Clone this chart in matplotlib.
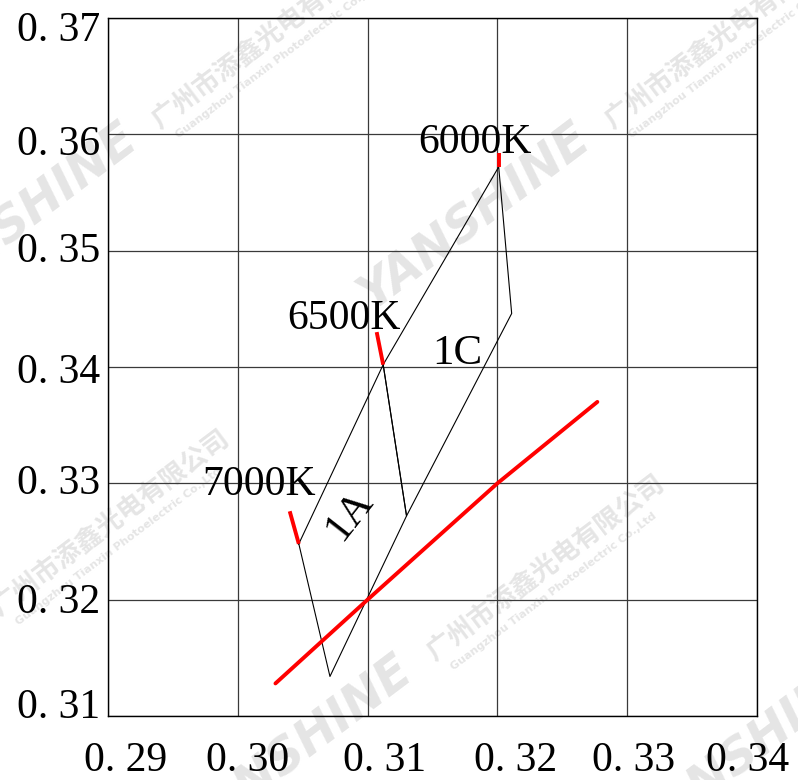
import numpy as np
import matplotlib
matplotlib.use("Agg")
import matplotlib.pyplot as plt
from matplotlib.transforms import IdentityTransform, offset_copy

# ---- chromaticity data (CIE 1931 x, y) ----
# black-body locus segment
locus_x = [0.3029, 0.3100, 0.3200, 0.3277]
locus_y = [0.3128, 0.3200, 0.3300, 0.3370]

# CCT isotherm marks: outer end and the end that meets the bin corners
cct_labels = ["7000K", "6500K", "6000K"]
iso_x_out = [0.3040, 0.3107, 0.3201]
iso_y_out = [0.3276, 0.3430, 0.3584]
iso_x_in = [0.3047, 0.3112, 0.3201]
iso_y_in = [0.3248, 0.3402, 0.3572]

# colour bins
bin_names = ["1A", "1C"]
bin_1a_x = [0.3047, 0.3112, 0.3130, 0.3071]
bin_1a_y = [0.3248, 0.3402, 0.3272, 0.3134]
bin_1c_x = [0.3112, 0.3201, 0.3211, 0.3130]
bin_1c_y = [0.3402, 0.3572, 0.3446, 0.3272]

# axis ticks
x_ticks = [0.29, 0.30, 0.31, 0.32, 0.33, 0.34]
y_ticks = [0.31, 0.32, 0.33, 0.34, 0.35, 0.36, 0.37]
x_tick_labels = ["0. 29", "0. 30", "0. 31", "0. 32", "0. 33", "0. 34"]
y_tick_labels = ["0. 31", "0. 32", "0. 33", "0. 34", "0. 35", "0. 36", "0. 37"]

# ---- layout / style ----
W, H = 798, 780
SERIF = "Liberation Serif"
FS = 30
# pixel nudges for tick labels (x: rightwards, y: downwards)
x_label_dx = [18, 10, 17, 18, 6, -9]
y_label_dy = [-12, -1, -3, 2, -3, 7, 9]

fig = plt.figure(figsize=(W / 100, H / 100), dpi=100)
fig.patch.set_facecolor("white")
ax = fig.add_axes([108 / W, 1 - 716 / H, (757 - 108) / W, (716 - 18) / H])
ax.set_facecolor("none")
ax.set_xlim(x_ticks[0], x_ticks[-1])
ax.set_ylim(y_ticks[0], y_ticks[-1])
ax.set_xticks(x_ticks)
ax.set_yticks(y_ticks)
ax.set_xticklabels([])
ax.set_yticklabels([])
ax.tick_params(length=0)
ax.grid(True, color="#3a3a3a", linewidth=0.9)
ax.set_axisbelow(True)
for s in ax.spines.values():
    s.set_linewidth(1.0)
    s.set_color("black")

# tick labels as text so they can be nudged inside the canvas
for v, lab, dx in zip(x_ticks, x_tick_labels, x_label_dx):
    tr = offset_copy(ax.get_xaxis_transform(), fig=fig, x=dx, y=-55, units="dots")
    ax.text(v, 0, lab, transform=tr, ha="center", va="baseline",
            fontsize=FS, family=SERIF, clip_on=False)
for v, lab, dy in zip(y_ticks, y_tick_labels, y_label_dy):
    tr = offset_copy(ax.get_yaxis_transform(), fig=fig, x=-8, y=-(14 + dy), units="dots")
    ax.text(0, v, lab, transform=tr, ha="right", va="baseline",
            fontsize=FS, family=SERIF, clip_on=False)

# bins
for bx, by in [(bin_1a_x, bin_1a_y), (bin_1c_x, bin_1c_y)]:
    ax.plot(bx + bx[:1], by + by[:1], color="black", linewidth=0.8, zorder=3)

# black-body locus
ax.plot(locus_x, locus_y, color="red", linewidth=2.8, solid_capstyle="round", zorder=4)

# isotherm marks
for xo, yo, xi, yi in zip(iso_x_out, iso_y_out, iso_x_in, iso_y_in):
    ax.plot([xo, xi], [yo, yi], color="red", linewidth=2.8, solid_capstyle="butt", zorder=4)

# CCT labels
cct_lab_x = [0.3016, 0.3082, 0.3183]
cct_lab_y = [0.3290, 0.3433, 0.3584]
for t, lx, ly in zip(cct_labels, cct_lab_x, cct_lab_y):
    ax.text(lx, ly, t, ha="center", va="baseline", fontsize=FS, family=SERIF, zorder=5)

# bin labels
ax.text(0.3086, 0.3273, bin_names[0], ha="center", va="center", rotation=52,
        rotation_mode="anchor", fontsize=31, family=SERIF, zorder=5)
ax.text(0.3169, 0.3403, bin_names[1], ha="center", va="baseline",
        fontsize=31, family=SERIF, zorder=5)

# ---- company watermark ----
WM_COLOR = "#e5e5e5"
ANG = 37.0
u = np.array([np.cos(np.radians(ANG)), np.sin(np.radians(ANG))])
n = np.array([np.sin(np.radians(ANG)), -np.cos(np.radians(ANG))])


def watermark(px, py):
    p = np.array([px, H - py], dtype=float)
    kw = dict(transform=IdentityTransform(), rotation=ANG, rotation_mode="anchor",
              ha="left", va="baseline", color=WM_COLOR, zorder=-10)
    fig.text(*p, "YANSHINE", fontsize=35, fontweight="bold", style="italic",
             family="DejaVu Sans", **kw)
    q = p + u * 300
    fig.text(*q, "广州市添鑫光电有限公司", fontsize=19, fontweight="bold",
             family=["Noto Sans CJK SC", "DejaVu Sans"], **kw)
    r = p + u * 310 + n * 18
    fig.text(*r, "Guangzhou Tianxin Photoelectric Co.,Ltd", fontsize=8,
             fontweight="bold", family="DejaVu Sans", **kw)


for ax_, ay_ in [(373, 311), (-80, 311), (-240, 798), (195, 843), (648, 843)]:
    watermark(ax_, ay_)

fig.savefig("out.png", dpi=100, facecolor="white")
